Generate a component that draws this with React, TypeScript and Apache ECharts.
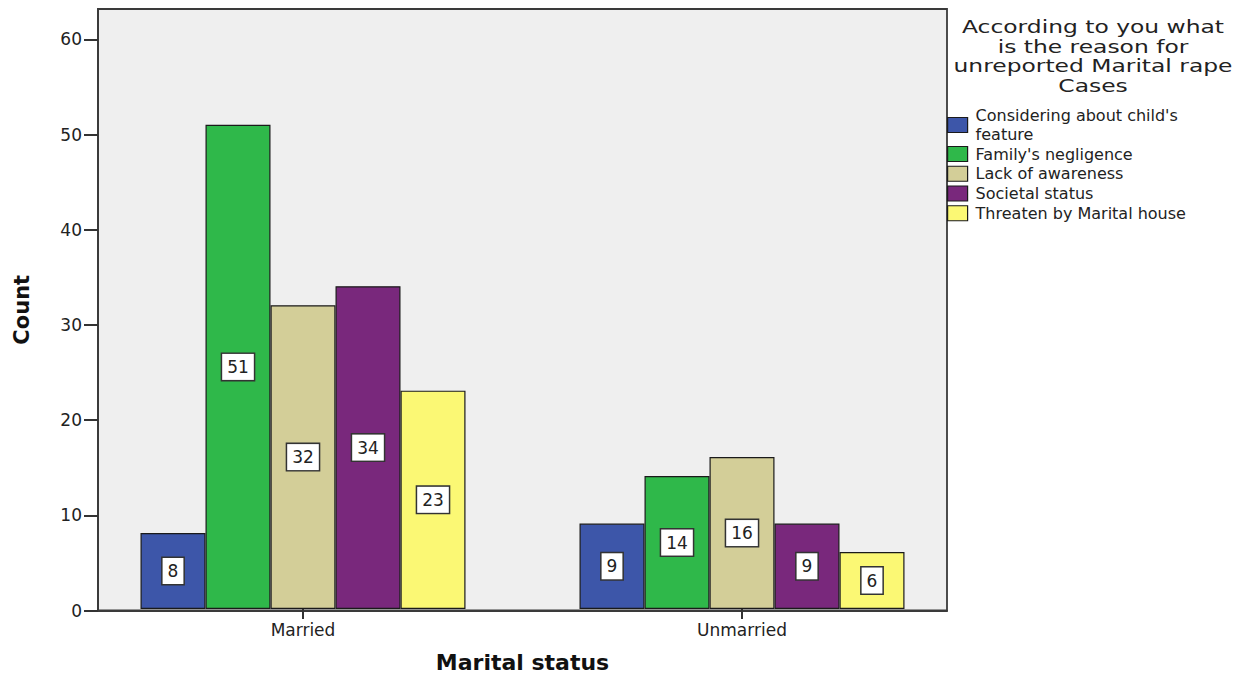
import React, { useEffect, useRef } from "react";
import * as echarts from "echarts";

const categories = ["Married", "Unmarried"];
const seriesNames = [
  "Considering about child's\nfeature",
  "Family's negligence",
  "Lack of awareness",
  "Societal status",
  "Threaten by Marital house",
];
const childFeature = [8, 9];
const familyNegligence = [51, 14];
const lackAwareness = [32, 16];
const societalStatus = [34, 9];
const threatenHouse = [23, 6];
const seriesValues = [childFeature, familyNegligence, lackAwareness, societalStatus, threatenHouse];
const seriesColors = ["#3d56a9", "#2fb84a", "#d3ce98", "#79287c", "#fbf874"];
const yTicks = [0, 10, 20, 30, 40, 50, 60];
const yMax = 63.2;
const legendTitle = "According to you what\nis the reason for\nunreported Marital rape\nCases";

const FONT = "DejaVu Sans";

export default function App() {
  const ref = useRef<HTMLDivElement>(null);
  useEffect(() => {
    if (!ref.current) return;
    const chart = echarts.init(ref.current, null, { renderer: "svg" });
    const series = seriesNames.map((name, i) => ({
      name,
      type: "bar",
      xAxisIndex: 1,
      yAxisIndex: 1,
      data: seriesValues[i],
      barWidth: 65,
      barGap: "0%",
      itemStyle: { color: seriesColors[i], borderColor: "#1a1a1a", borderWidth: 1.2 },
      label: {
        show: true,
        position: "inside",
        fontFamily: FONT,
        fontSize: 17,
        color: "#222",
        backgroundColor: "#ffffff",
        borderColor: "#333",
        borderWidth: 1.5,
        padding: [4, 5],
        lineHeight: 18,
      },
    }));
    chart.setOption({
      animation: false,
      backgroundColor: "#ffffff",
      textStyle: { fontFamily: FONT },
      grid: [
        {
          left: 98,
          top: 9,
          width: 849,
          height: 601.5,
          show: true,
          backgroundColor: "#efefef",
          borderColor: "#3a3a3a",
          borderWidth: 1.8,
        },
        {
          left: 83.5,
          top: 9,
          width: 878,
          height: 601.5,
          show: false,
        },
      ],
      xAxis: [
        {
          gridIndex: 0,
          type: "value",
          min: 0,
          max: 1,
          axisLine: { show: true, lineStyle: { color: "#3a3a3a", width: 2 } },
          axisTick: { show: false },
          axisLabel: { show: false },
          splitLine: { show: false },
        },
        {
          gridIndex: 1,
          type: "category",
          data: categories,
          name: "Marital status",
          nameLocation: "middle",
          nameGap: 42,
          nameTextStyle: { fontFamily: FONT, fontSize: 22, fontWeight: "bold", color: "#111" },
          axisLine: { show: false },
          axisTick: { show: true, alignWithLabel: true, length: 10, lineStyle: { color: "#333", width: 2 } },
          axisLabel: { fontFamily: FONT, fontSize: 17, color: "#222", margin: 12 },
        },
      ],
      yAxis: [
        {
          gridIndex: 0,
          type: "value",
          min: 0,
          max: yMax,
          interval: 10,
          name: "Count",
          nameLocation: "middle",
          nameRotate: 90,
          nameGap: 66,
          nameTextStyle: { fontFamily: FONT, fontSize: 21, fontWeight: "bold", color: "#111" },
          axisLine: { show: true, lineStyle: { color: "#3a3a3a", width: 2 } },
          axisTick: { show: true, length: 14, lineStyle: { color: "#333", width: 2 }, customValues: yTicks },
          axisLabel: { fontFamily: FONT, fontSize: 17, color: "#222", margin: 16, customValues: yTicks },
          splitLine: { show: false },
        },
        {
          gridIndex: 1,
          type: "value",
          min: 0,
          max: yMax,
          show: false,
        },
      ],
      legend: {
        orient: "vertical",
        left: 947,
        top: 106.5,
        padding: 0,
        itemWidth: 20,
        itemHeight: 15,
        itemGap: 1.25,
        icon: "rect",
        itemStyle: { borderColor: "#1a1a1a", borderWidth: 1.2 },
        textStyle: { fontFamily: FONT, fontSize: 16, color: "#222", lineHeight: 18.5, padding: [0, 0, 0, 3] },
        data: seriesNames,
      },
      graphic: [
        {
          type: "text",
          x: 1093,
          y: 17,
          scaleX: 1.3,
          style: {
            text: legendTitle,
            fontFamily: FONT,
            fontSize: 18,
            lineHeight: 19.7,
            align: "center",
            verticalAlign: "top",
            fill: "#222",
          },
        },
      ],
      series,
    });
    return () => chart.dispose();
  }, []);
  return <div ref={ref} style={{ width: 1240, height: 678, position: "absolute", left: 0, top: 0 }} />;
}
